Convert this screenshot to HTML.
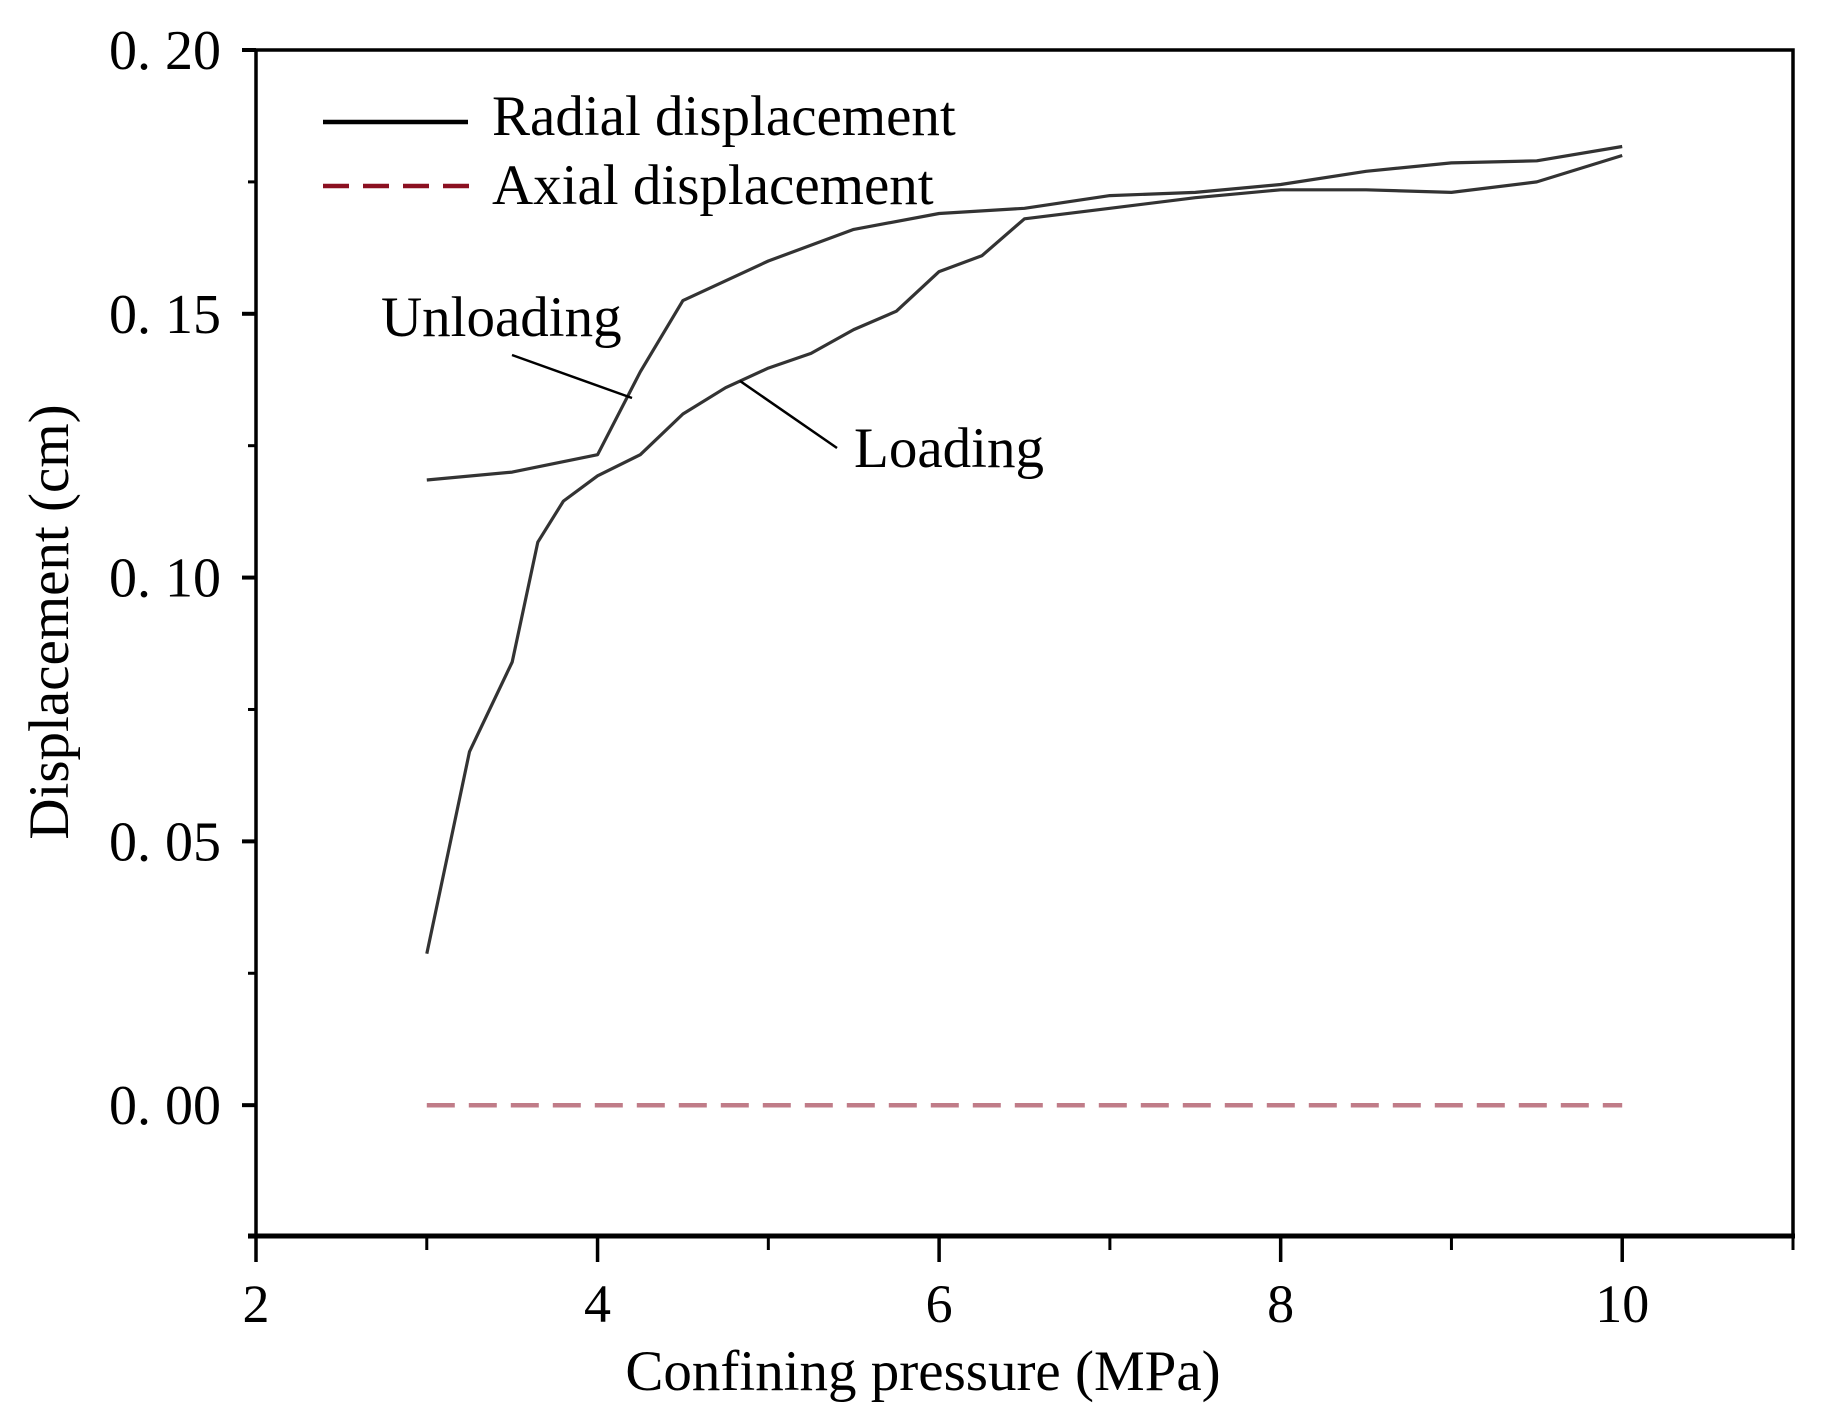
<!DOCTYPE html>
<html><head><meta charset="utf-8"><style>
html,body{margin:0;padding:0;background:#fff;}
svg{display:block;font-family:"Liberation Serif",serif;}
</style></head><body>
<svg id="chart" width="1824" height="1422" viewBox="0 0 1824 1422" xmlns="http://www.w3.org/2000/svg">
<rect width="1824" height="1422" fill="#fff"/>
<g id="axes"></g>
<g id="series"></g>
<g>
<line x1="323" y1="122" x2="468" y2="122" stroke="#000" stroke-width="4.5"/>
<text x="492" y="135" font-size="57">Radial displacement</text>
<line x1="323" y1="186" x2="472" y2="186" stroke="#8b1020" stroke-width="4.5" stroke-dasharray="26,14"/>
<text x="492" y="204" font-size="57">Axial displacement</text>
</g>
<text x="381" y="336" font-size="57">Unloading</text>
<line x1="512" y1="355" x2="632" y2="398" stroke="#000" stroke-width="2.5"/>
<text x="854" y="467" font-size="57">Loading</text>
<line x1="740" y1="381" x2="837" y2="448" stroke="#000" stroke-width="2.5"/>
<text x="923" y="1390" font-size="57" text-anchor="middle">Confining pressure (MPa)</text>
<text transform="translate(68,622) rotate(-90)" font-size="57" text-anchor="middle">Displacement (cm)</text>
</svg>
<script>
const xTicks = [2, 4, 6, 8, 10];
const xMinor = [3, 5, 7, 9, 11];
const yTicks = [0, 0.05, 0.10, 0.15, 0.20];
const yTickLabels = ["0. 00", "0. 05", "0. 10", "0. 15", "0. 20"];
const yMinor = [-0.025, 0.025, 0.075, 0.125, 0.175];
const loadX = [3, 3.25, 3.5, 3.65, 3.8, 4, 4.25, 4.5, 4.75, 5, 5.25, 5.5, 5.75, 6, 6.25, 6.5, 7, 7.5, 8, 8.5, 9, 9.5, 10];
const loadY = [0.0287, 0.067, 0.084, 0.1067, 0.1145, 0.1193, 0.1233, 0.131, 0.136, 0.1397, 0.1425, 0.147, 0.1505, 0.158, 0.161, 0.168, 0.170, 0.172, 0.1735, 0.1735, 0.173, 0.175, 0.180];
const unloadX = [10, 9.5, 9, 8.5, 8, 7.5, 7, 6.5, 6, 5.5, 5, 4.5, 4.25, 4, 3.5, 3];
const unloadY = [0.1817, 0.179, 0.1786, 0.177, 0.1745, 0.173, 0.1724, 0.170, 0.169, 0.166, 0.160, 0.1525, 0.139, 0.1233, 0.120, 0.1185];
const axialX = [3, 10];
const axialY = [0, 0];

const L = 256, R = 1793, T = 50, B = 1236;
const xMin = 2, xMax = 11, yMin = -0.0248, yMax = 0.20;
const sx = v => L + (v - xMin) / (xMax - xMin) * (R - L);
const sy = v => B - (v - yMin) / (yMax - yMin) * (B - T);
const NS = "http://www.w3.org/2000/svg";
const axes = document.getElementById('axes');
const series = document.getElementById('series');
function mk(tag, attrs, parent) {
  const e = document.createElementNS(NS, tag);
  for (const k in attrs) e.setAttribute(k, attrs[k]);
  parent.appendChild(e);
  return e;
}
const frame = mk('rect', {x: L, y: T, width: R - L, height: B - T, fill: 'none', stroke: '#000', 'stroke-width': 3.5}, axes);


const xa = mk('line', {x1: L - 8, y1: B, x2: R + 2, y2: B, stroke: '#000', 'stroke-width': 5}, axes);


xTicks.forEach(v => {
  const t = mk('line', {x1: sx(v), y1: B, x2: sx(v), y2: B + 26, stroke: '#000', 'stroke-width': 3.5}, axes);
  
  
  const lb = mk('text', {x: sx(v), y: B + 86, 'font-size': 54, 'text-anchor': 'middle'}, axes);
  lb.textContent = v;
  
  
});
xMinor.forEach(v => {
  const t = mk('line', {x1: sx(v), y1: B, x2: sx(v), y2: B + 14, stroke: '#000', 'stroke-width': 3}, axes);
  
  
});
yTicks.forEach((v, i) => {
  const t = mk('line', {x1: L - 14, y1: sy(v), x2: L, y2: sy(v), stroke: '#000', 'stroke-width': 4}, axes);
  
  
  const lb = mk('text', {x: 109, y: sy(v) + 19, 'font-size': 56}, axes);
  lb.textContent = yTickLabels[i];
  
  
});
yMinor.forEach(v => {
  const t = mk('line', {x1: L - 8, y1: sy(v), x2: L, y2: sy(v), stroke: '#000', 'stroke-width': 3}, axes);
  
  
});
function pts(xs, ys) { return xs.map((x, i) => sx(x).toFixed(1) + ',' + sy(ys[i]).toFixed(1)).join(' '); }
const pl = mk('polyline', {points: pts(loadX, loadY), fill: 'none', stroke: '#333', 'stroke-width': 3.2, 'stroke-linejoin': 'round'}, series);


const pu = mk('polyline', {points: pts(unloadX, unloadY), fill: 'none', stroke: '#333', 'stroke-width': 3.2, 'stroke-linejoin': 'round'}, series);


const pa = mk('polyline', {points: pts(axialX, axialY), fill: 'none', stroke: '#c07c88', 'stroke-width': 4.5, 'stroke-dasharray': '28,14'}, series);


</script>
</body></html>
